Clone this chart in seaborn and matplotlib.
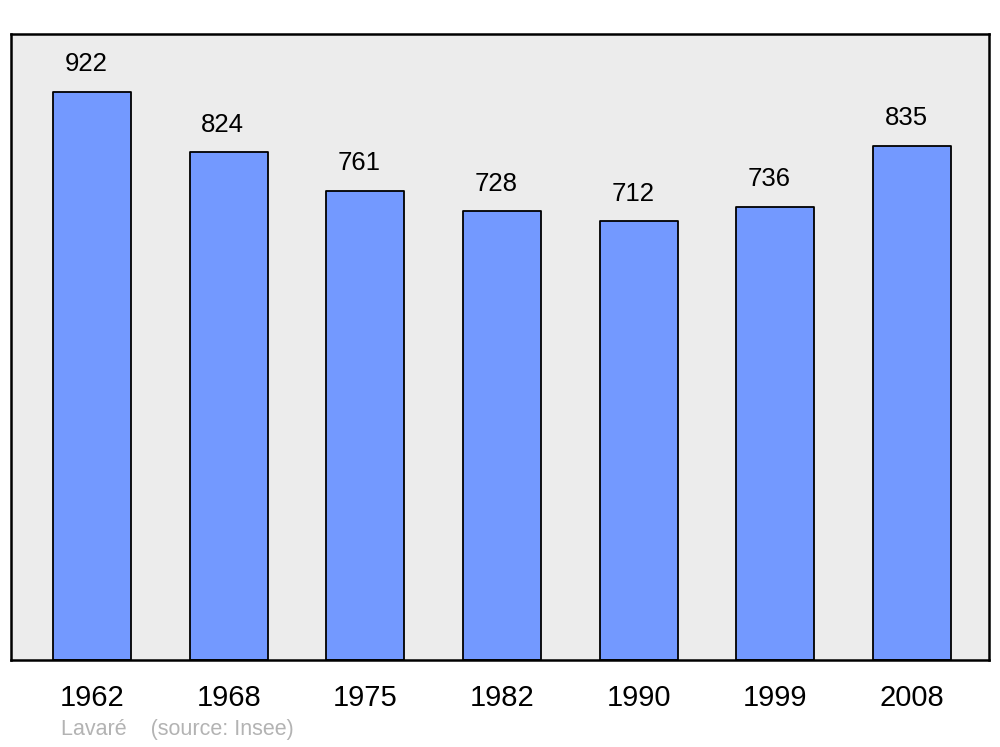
import pandas as pd
import matplotlib.pyplot as plt
import seaborn as sns

# Population data (Insee)
years = ["1962", "1968", "1975", "1982", "1990", "1999", "2008"]
population = [922, 824, 761, 728, 712, 736, 835]

df = pd.DataFrame({"year": years, "pop": population})

sns.set_style("white")
plt.rcParams["font.family"] = ["Liberation Sans", "DejaVu Sans"]
plt.rcParams["text.color"] = "black"
plt.rcParams["xtick.color"] = "black"

fig = plt.figure(figsize=(10, 7.47), dpi=100)
ax = fig.add_axes([0.011, 0.1165, 0.978, 0.838])
ax.set_facecolor("#ececec")

sns.barplot(data=df, x="year", y="pop", order=years, color="#7399ff",
            saturation=1, width=0.57, edgecolor="black", linewidth=1.3, ax=ax)
for p in ax.patches:
    p.set_joinstyle("round")

# value labels above bars
for i, v in enumerate(population):
    ax.annotate(str(v), (i, v), xytext=(-4.3, 20), textcoords="offset points",
                ha="center", va="center", fontsize=18.5, color="black")

ax.set_xlim(-0.593, 6.563)
ax.set_ylim(0, 1016)
ax.set_xlabel("")
ax.set_ylabel("")
ax.set_yticks([])
ax.tick_params(axis="x", length=0, labelsize=21, pad=17, labelcolor="black")

for s in ax.spines.values():
    s.set_visible(True)
    s.set_color("black")
    s.set_linewidth(1.8)
    s.set_joinstyle("round")

fig.text(0.061, 0.023, "Lavaré    (source: Insee)", color="#b3b3b3",
         fontsize=15.5, ha="left", va="center")

fig.savefig("out.png", dpi=100)
